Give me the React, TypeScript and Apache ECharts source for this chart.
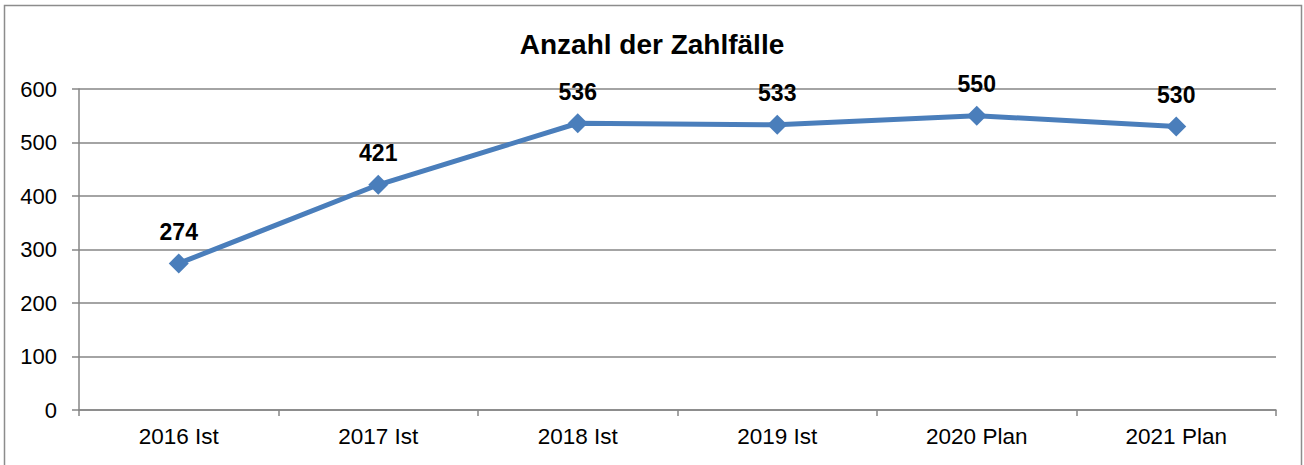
import React, { useEffect, useRef } from "react";
import * as echarts from "echarts";

const categories = ["2016 Ist", "2017 Ist", "2018 Ist", "2019 Ist", "2020 Plan", "2021 Plan"];
const values = [274, 421, 536, 533, 550, 530];
const title = "Anzahl der Zahlfälle";

export default function App() {
  const ref = useRef<HTMLDivElement>(null);
  useEffect(() => {
    if (!ref.current) return;
    const chart = echarts.init(ref.current, undefined, { renderer: "svg" });
    const font = "'Liberation Sans', Arial, sans-serif";
    chart.setOption({
      animation: false,
      backgroundColor: "#ffffff",
      title: {
        text: title,
        left: "center",
        top: 25,
        textStyle: { fontFamily: font, fontSize: 28, fontWeight: "bold", color: "#000" },
      },
      graphic: [
        {
          type: "rect",
          shape: { x: 4.5, y: 5.5, width: 1297, height: 480 },
          style: { fill: "none", stroke: "#8c8c8c", lineWidth: 1.5 },
          silent: true,
        },
      ],
      grid: { left: 79, right: 28, top: 89, bottom: 55 },
      xAxis: {
        type: "category",
        data: categories,
        boundaryGap: true,
        axisLine: { lineStyle: { color: "#868686", width: 1.5 } },
        axisTick: { show: true, alignWithLabel: false, length: 6, lineStyle: { color: "#868686", width: 1.5 } },
        axisLabel: { fontFamily: font, fontSize: 22.5, color: "#000", margin: 15 },
      },
      yAxis: {
        type: "value",
        min: 0,
        max: 600,
        interval: 100,
        axisLine: { show: true, lineStyle: { color: "#868686", width: 1.5 } },
        axisTick: { show: true, length: 7, lineStyle: { color: "#868686", width: 1.5 } },
        axisLabel: { fontFamily: font, fontSize: 22, color: "#000", margin: 22 },
        splitLine: { lineStyle: { color: "#868686", width: 1.5 } },
      },
      series: [
        {
          type: "line",
          data: values,
          symbol: "diamond",
          symbolSize: 20,
          lineStyle: { color: "#4A7EBB", width: 5 },
          itemStyle: { color: "#4A7EBB" },
          label: {
            show: true,
            position: "top",
            distance: 10,
            fontFamily: font,
            fontSize: 23,
            fontWeight: "bold",
            color: "#000",
          },
        },
      ],
    });
    return () => chart.dispose();
  }, []);
  return (
    <div
      ref={ref}
      style={{ position: "fixed", left: 0, top: 0, width: 1304, height: 465 }}
    />
  );
}
